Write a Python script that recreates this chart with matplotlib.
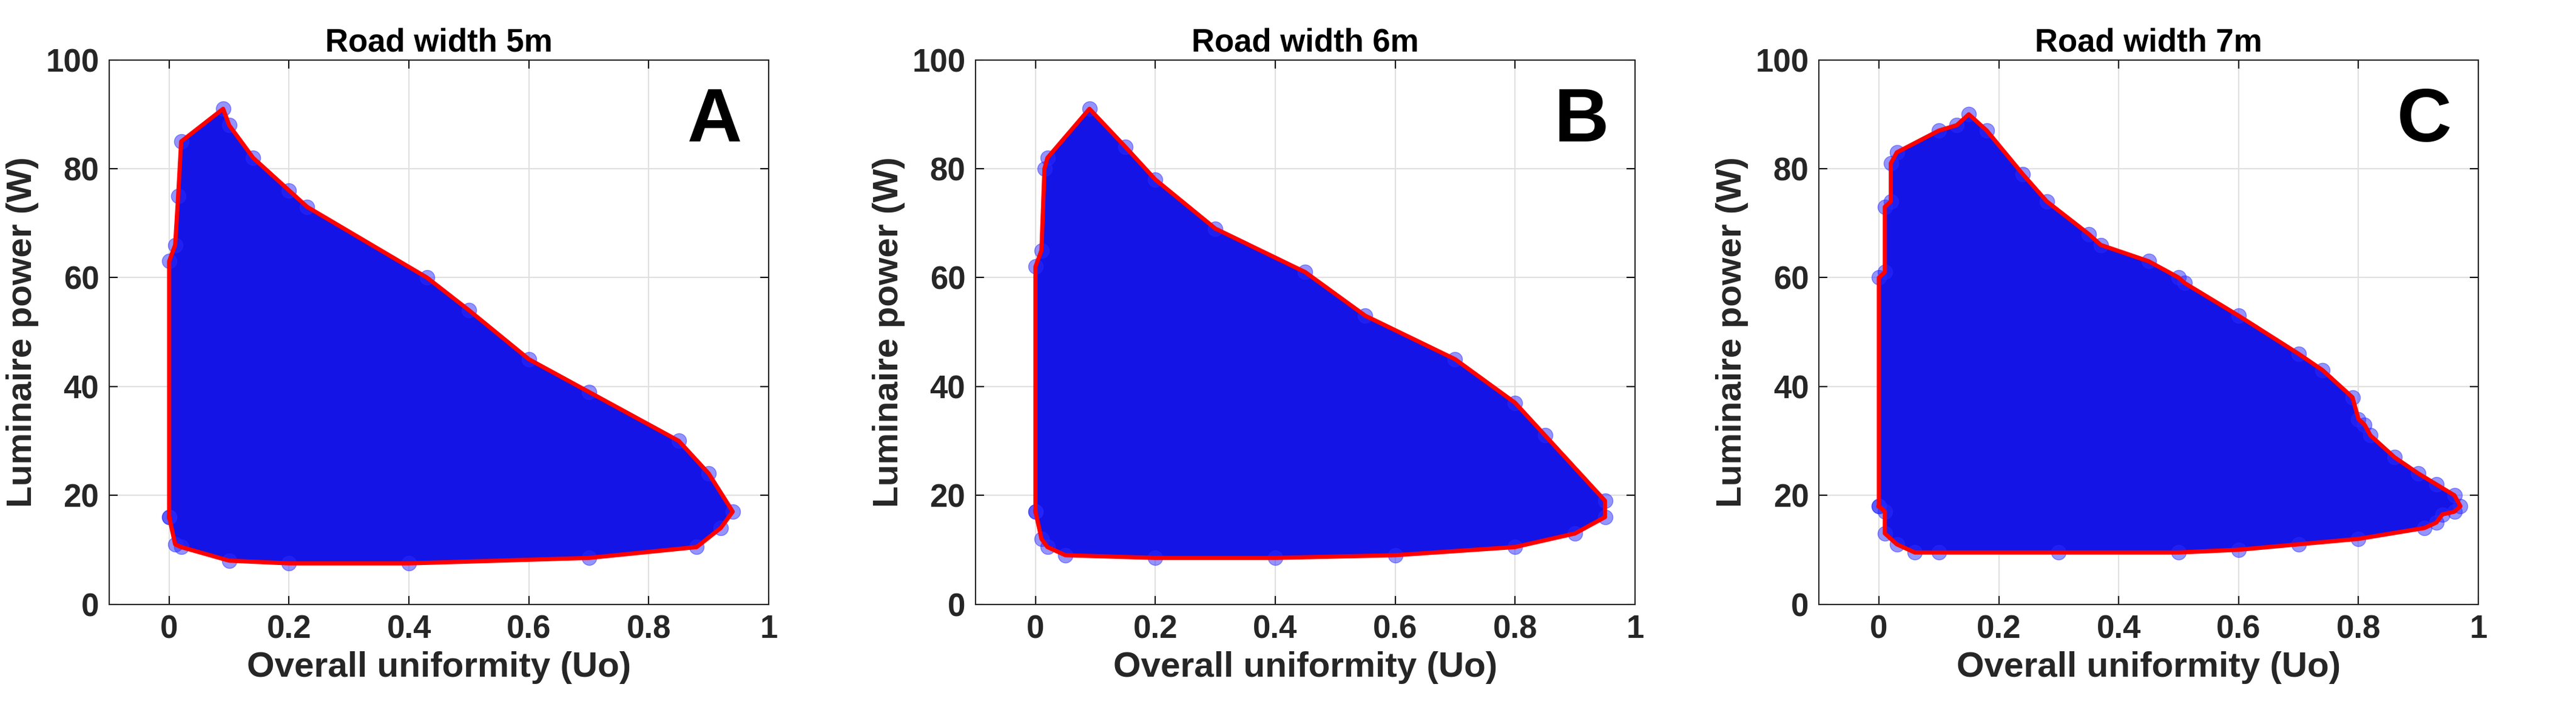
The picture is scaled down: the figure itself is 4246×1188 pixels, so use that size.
import numpy as np
import matplotlib.pyplot as plt

plt.rcParams['font.family'] = ['Liberation Sans', 'DejaVu Sans']

titles = ['Road width 5m', 'Road width 6m', 'Road width 7m']
letters = ['A', 'B', 'C']

# boundary (Uo, W) for each road width
uo_5 = [0, 0, 0.01, 0.015, 0.02, 0.09, 0.10, 0.14, 0.20, 0.23, 0.43, 0.50, 0.60, 0.70, 0.85, 0.90, 0.94,
        0.92, 0.88, 0.70, 0.40, 0.20, 0.10, 0.02, 0.01, 0]
w_5 = [16, 63, 66, 75, 85, 91, 88, 82, 76, 73, 60, 54, 45, 39, 30, 24, 17,
       14, 10.5, 8.5, 7.5, 7.5, 8, 10.5, 11, 16]
uo_6 = [0, 0, 0.01, 0.015, 0.02, 0.09, 0.15, 0.20, 0.30, 0.45, 0.55, 0.70, 0.80, 0.85, 0.95, 0.95,
        0.90, 0.80, 0.60, 0.40, 0.20, 0.05, 0.02, 0.01, 0]
w_6 = [17, 62, 65, 80, 82, 91, 84, 78, 69, 61, 53, 45, 37, 31, 19, 16,
       13, 10.5, 9, 8.5, 8.5, 9, 10.5, 12, 17]
uo_7 = [0, 0, 0.01, 0.01, 0.02, 0.02, 0.03, 0.10, 0.13, 0.15, 0.18, 0.24, 0.28, 0.35, 0.37, 0.45, 0.50,
        0.51, 0.60, 0.70, 0.74, 0.79, 0.80, 0.81, 0.82, 0.86, 0.90, 0.93, 0.96, 0.97, 0.96, 0.94, 0.93,
        0.91, 0.80, 0.70, 0.60, 0.50, 0.30, 0.10, 0.06, 0.03, 0.01, 0.01, 0]
w_7 = [18, 60, 61, 73, 74, 81, 83, 87, 88, 90, 87, 79, 74, 68, 66, 63, 60,
       59, 53, 46, 43, 38, 34, 33, 31, 27, 24, 22, 20, 18, 17, 16.5, 15,
       14, 12, 11, 10, 9.5, 9.5, 9.5, 9.5, 11, 13, 17, 18]
bounds = [(uo_5, w_5), (uo_6, w_6), (uo_7, w_7)]

fig = plt.figure(figsize=(42.46, 11.88), dpi=100)
lefts = [0.0424, 0.3787, 0.7061]
for i in range(3):
    ax = fig.add_axes([lefts[i], 0.162, 0.256, 0.755])
    u, w = bounds[i]
    ax.fill(u, w, color='#1414e6', zorder=2)
    ax.scatter(u, w, s=300, color='#2a2aff', alpha=0.5, zorder=2)
    ax.plot(u, w, color='red', lw=5, zorder=3)
    ax.set_xlim(-0.1, 1)
    ax.set_ylim(0, 100)
    ax.set_xticks([0, 0.2, 0.4, 0.6, 0.8, 1])
    ax.set_xticklabels(['0', '0.2', '0.4', '0.6', '0.8', '1'])
    ax.set_yticks([0, 20, 40, 60, 80, 100])
    ax.grid(True, color='#e0e0e0', lw=1.5, zorder=0)
    ax.set_axisbelow(True)
    ax.tick_params(labelsize=38, width=1.5, length=10, direction='in', top=True, right=True, pad=12)
    for lab in ax.get_xticklabels() + ax.get_yticklabels():
        lab.set_fontweight('bold')
        lab.set_color('#262626')
    for sp in ax.spines.values():
        sp.set_color('#262626')
        sp.set_linewidth(1.5)
    ax.set_title(titles[i], fontsize=38, fontweight='bold', pad=10)
    ax.set_xlabel('Overall uniformity (Uo)', fontsize=42, fontweight='bold', color='#262626', labelpad=8)
    ax.set_ylabel('Luminaire power (W)', fontsize=42, fontweight='bold', color='#262626', labelpad=8)
    ax.text(0.96, 0.95, letters[i], transform=ax.transAxes, ha='right', va='top',
            fontsize=90, fontweight='bold')

fig.savefig('out.png', dpi=100)
